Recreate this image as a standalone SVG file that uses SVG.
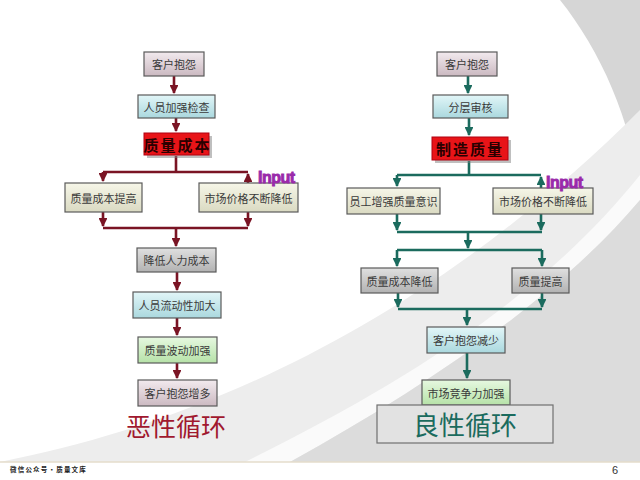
<svg xmlns="http://www.w3.org/2000/svg" width="640" height="480" viewBox="0 0 640 480">
<style>
.t{font-family:"Noto Sans CJK SC","Liberation Serif",serif;font-size:11px;fill:#3a3a3a;text-anchor:middle;dominant-baseline:central}
.bx{stroke:#5a5a5a;stroke-width:1.2}
.rd{fill:#e81418;stroke:#b00010;stroke-width:1}
.rt{font-family:"Noto Sans CJK SC",sans-serif;font-size:15px;font-weight:bold;fill:#2a0000;text-anchor:middle;dominant-baseline:central;letter-spacing:2px}
.cr{stroke:#7a1424;stroke-width:2.6;fill:none}
.cg{stroke:#1b6b5e;stroke-width:2.6;fill:none}
.inp{font-family:"Liberation Sans",Arial,sans-serif;font-size:16px;font-weight:bold;fill:#9a2aaa;stroke:#9a2aaa;stroke-width:0.9;letter-spacing:-0.5px}
.sh{fill:#808080;opacity:0.5}
</style>
<defs>
<linearGradient id="gp" x1="0" y1="0" x2="0" y2="1"><stop offset="0" stop-color="#f2eaee"/><stop offset="1" stop-color="#cbb9c1"/></linearGradient>
<linearGradient id="gc" x1="0" y1="0" x2="0" y2="1"><stop offset="0" stop-color="#e2f6f8"/><stop offset="1" stop-color="#aad8de"/></linearGradient>
<linearGradient id="gb" x1="0" y1="0" x2="0" y2="1"><stop offset="0" stop-color="#f6f6e8"/><stop offset="1" stop-color="#dadac2"/></linearGradient>
<linearGradient id="gg" x1="0" y1="0" x2="0" y2="1"><stop offset="0" stop-color="#e0e0e0"/><stop offset="1" stop-color="#b2b2b2"/></linearGradient>
<linearGradient id="gn" x1="0" y1="0" x2="0" y2="1"><stop offset="0" stop-color="#e6f8e0"/><stop offset="1" stop-color="#b6e2a8"/></linearGradient>
<marker id="ar" viewBox="0 0 10 10" refX="9" refY="5" markerWidth="3.4" markerHeight="3.4" orient="auto"><path d="M0,0 L10,5 L0,10 Z" fill="#7a1424"/></marker>
<marker id="ag" viewBox="0 0 10 10" refX="9" refY="5" markerWidth="3.4" markerHeight="3.4" orient="auto"><path d="M0,0 L10,5 L0,10 Z" fill="#1b6b5e"/></marker>
</defs>
<g id="background">
<rect width="640" height="480" fill="#ffffff"/>
<path d="M560,0 C600,50 632,120 640,195 L640,0 Z" fill="#d6d6d6"/>
<path d="M0,462 C190,425 420,330 640,110 L640,462 Z" fill="#ededed"/>
<path d="M245,462 C400,385 540,300 640,175 L640,200 C560,295 430,385 290,462 Z" fill="#fafafa"/>
<path d="M290,462 C430,385 560,295 640,200 L640,462 Z" fill="#dcdcdc"/>
<rect x="0" y="462" width="640" height="18" fill="#ffffff"/>
<line x1="0" y1="462" x2="640" y2="462" stroke="#e4dccb" stroke-width="1.5"/>
</g>
<g id="connectors">
<path class="cr" d="M174,76 V93" marker-end="url(#ar)"/>
<path class="cr" d="M176,118 V131" marker-end="url(#ar)"/>
<path class="cr" d="M176,156 V171"/>
<path class="cr" d="M103,172 H248"/>
<path class="cr" d="M103,172 V181" marker-end="url(#ar)"/>
<path class="cr" d="M248,183 V174" marker-end="url(#ar)"/>
<path class="cr" d="M103,212 V226" marker-end="url(#ar)"/>
<path class="cr" d="M248,212 V226" marker-end="url(#ar)"/>
<path class="cr" d="M103,228 H248"/>
<path class="cr" d="M176,228 V246" marker-end="url(#ar)"/>
<path class="cr" d="M177,272 V290" marker-end="url(#ar)"/>
<path class="cr" d="M177,318 V335" marker-end="url(#ar)"/>
<path class="cr" d="M177,363 V378" marker-end="url(#ar)"/>
<path class="cg" d="M468,76 V93" marker-end="url(#ag)"/>
<path class="cg" d="M469,118 V135" marker-end="url(#ag)"/>
<path class="cg" d="M469,161 V174"/>
<path class="cg" d="M397,175 H541"/>
<path class="cg" d="M397,175 V186" marker-end="url(#ag)"/>
<path class="cg" d="M541,188 V177" marker-end="url(#ag)"/>
<path class="cg" d="M397,214 V230" marker-end="url(#ag)"/>
<path class="cg" d="M541,214 V230" marker-end="url(#ag)"/>
<path class="cg" d="M397,232 H542"/>
<path class="cg" d="M468,232 V248" marker-end="url(#ag)"/>
<path class="cg" d="M397,250 H542"/>
<path class="cg" d="M397,250 V266" marker-end="url(#ag)"/>
<path class="cg" d="M542,250 V266" marker-end="url(#ag)"/>
<path class="cg" d="M398,293 V307" marker-end="url(#ag)"/>
<path class="cg" d="M542,293 V307" marker-end="url(#ag)"/>
<path class="cg" d="M398,309 H542"/>
<path class="cg" d="M467,309 V325" marker-end="url(#ag)"/>
<path class="cg" d="M467,353 V378" marker-end="url(#ag)"/>
</g>
<g id="L1"><rect class="bx" x="144" y="52" width="60" height="24" fill="url(#gp)"/><text class="t" x="174" y="64">客户抱怨</text></g>
<g id="L2"><rect class="bx" x="138" y="95" width="77" height="23" fill="url(#gc)"/><text class="t" x="176.5" y="106.5">人员加强检查</text></g>
<g id="L3"><rect class="sh" x="147" y="136" width="65" height="22"/><rect class="rd" x="144" y="133" width="65" height="22"/><text class="rt" x="177.5" y="144">质量成本</text></g>
<g id="L4"><rect class="bx" x="65" y="183" width="77" height="29" fill="url(#gb)"/><text class="t" x="103.5" y="197.5">质量成本提高</text></g>
<g id="L5"><rect class="bx" x="199" y="183" width="99" height="29" fill="url(#gb)"/><text class="t" x="248.5" y="197.5">市场价格不断降低</text></g>
<g id="L5in"><text class="inp" x="258" y="183">Input</text></g>
<g id="L6"><rect class="bx" x="137" y="248" width="79" height="24" fill="url(#gg)"/><text class="t" x="176.5" y="260">降低人力成本</text></g>
<g id="L7"><rect class="bx" x="133" y="292" width="88" height="26" fill="url(#gc)"/><text class="t" x="177" y="305">人员流动性加大</text></g>
<g id="L8"><rect class="bx" x="138" y="337" width="79" height="26" fill="url(#gn)"/><text class="t" x="177.5" y="350">质量波动加强</text></g>
<g id="L9"><rect class="bx" x="138" y="380" width="79" height="26" fill="url(#gp)"/><text class="t" x="177.5" y="393">客户抱怨增多</text></g>
<g id="L10"><text x="176" y="436" font-family="Noto Sans CJK SC,sans-serif" font-size="25" fill="#a0182e" text-anchor="middle">恶性循环</text></g>
<g id="R1"><rect class="bx" x="437" y="52" width="60" height="24" fill="url(#gp)"/><text class="t" x="467" y="64">客户抱怨</text></g>
<g id="R2"><rect class="bx" x="433" y="95" width="75" height="23" fill="url(#gc)"/><text class="t" x="470.5" y="106.5">分层审核</text></g>
<g id="R3"><rect class="sh" x="435" y="140" width="76" height="23"/><rect class="rd" x="432" y="137" width="76" height="23"/><text class="rt" x="470" y="148.5">制造质量</text></g>
<g id="R4"><rect class="bx" x="347" y="188" width="93" height="26" fill="url(#gb)"/><text class="t" x="393.5" y="201">员工增强质量意识</text></g>
<g id="R5"><rect class="bx" x="493" y="188" width="100" height="26" fill="url(#gb)"/><text class="t" x="543" y="201">市场价格不断降低</text></g>
<g id="R5in"><text class="inp" x="546" y="188">Input</text></g>
<g id="R6"><rect class="bx" x="361" y="268" width="77" height="25" fill="url(#gg)"/><text class="t" x="399.5" y="280.5">质量成本降低</text></g>
<g id="R7"><rect class="bx" x="512" y="268" width="57" height="25" fill="url(#gg)"/><text class="t" x="540.5" y="280.5">质量提高</text></g>
<g id="R8"><rect class="bx" x="427" y="327" width="78" height="26" fill="url(#gc)"/><text class="t" x="466" y="340">客户抱怨减少</text></g>
<g id="R9"><rect class="bx" x="422" y="380" width="88" height="25" fill="url(#gn)"/><text class="t" x="466" y="392.5">市场竞争力加强</text></g>
<g id="R10"><rect x="377" y="405" width="176" height="38" fill="#e2e2e2" stroke="#707070" stroke-width="1.2"/><text x="465" y="435" font-family="Noto Sans CJK SC,sans-serif" font-size="26" fill="#1b6b5e" text-anchor="middle">良性循环</text></g>
<g id="footer">
<text x="10" y="472" font-family="Noto Sans CJK SC,sans-serif" font-size="6.5" font-weight="bold" fill="#222" letter-spacing="1.2">微信公众号·质量文库</text>
<text x="612" y="474" font-family="Liberation Sans,Arial,sans-serif" font-size="11" fill="#333">6</text>
</g>
</svg>
